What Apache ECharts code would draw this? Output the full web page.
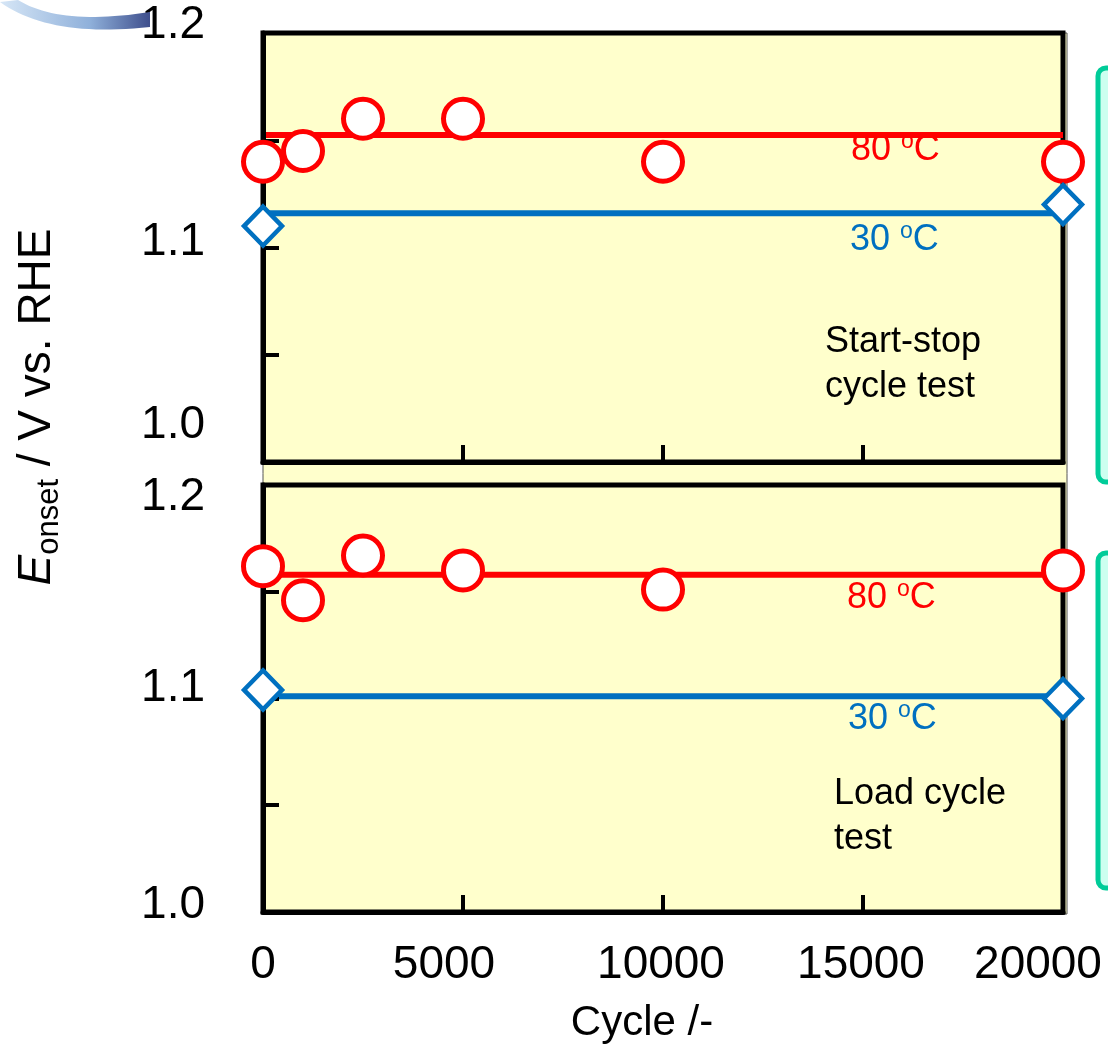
<!DOCTYPE html>
<html>
<head>
<meta charset="utf-8">
<script src="https://cdn.jsdelivr.net/npm/echarts@6/dist/echarts.min.js"></script>
<style>
html,body{margin:0;padding:0;background:#fff;}
#c{width:1108px;height:1047px;}
</style>
</head>
<body>
<div id="c"></div>
<script>
// ---- data ----
var cycles80 = [0, 1000, 2500, 5000, 10000, 20000];
var startStop80 = [1.140, 1.145, 1.160, 1.160, 1.140, 1.140];
var cycles30 = [0, 20000];
var startStop30 = [1.110, 1.120];
var startStop80Avg = 1.1525;
var startStop30Avg = 1.116;
var load80 = [1.162, 1.146, 1.167, 1.160, 1.151, 1.160];
var load30 = [1.104, 1.100];
var load80Avg = 1.158;
var load30Avg = 1.101;
var xTicks = [0, 5000, 10000, 15000, 20000];
var yTickLabels = ['1.0', '1.1', '1.2'];

var FONT = "'Liberation Sans', Arial, sans-serif";
var RED = '#FF0000', BLUE = '#0070C0';

function pairs(xs, ys) { return xs.map(function (x, i) { return [x, ys[i]]; }); }
function hline(v) { return [[0, v], [20000, v]]; }

var chart = echarts.init(document.getElementById('c'));

function yAxisCfg(gi, shifts) {
  var rich = {};
  shifts.forEach(function (d, i) {
    rich['l' + i] = {
      fontSize: 46, fontFamily: FONT, color: '#000',
      padding: d < 0 ? [0, 0, -2 * d, 0] : [2 * d, 0, 0, 0]
    };
  });
  return {
    type: 'value', gridIndex: gi, min: 1.0, max: 1.2, interval: 0.05, z: 4,
    axisLine: { show: true, lineStyle: { color: '#000', width: 5 } },
    splitLine: { show: false },
    axisTick: { show: true, inside: true, length: 16, lineStyle: { color: '#000', width: 4 } },
    axisLabel: {
      margin: 58,
      formatter: function (v) {
        var k = Math.round(v * 100);
        if (k === 100) return '{l0|' + yTickLabels[0] + '}';
        if (k === 110) return '{l1|' + yTickLabels[1] + '}';
        if (k === 120) return '{l2|' + yTickLabels[2] + '}';
        return '';
      },
      rich: rich
    }
  };
}

var xShift = { 0: 0, 5000: -19, 10000: -2, 15000: -2, 20000: -25 };
var xRich = {};
xTicks.forEach(function (t, i) {
  var d = xShift[t];
  xRich['x' + i] = {
    fontSize: 46, fontFamily: FONT, color: '#000',
    padding: d < 0 ? [0, -2 * d, 0, 0] : [0, 0, 0, 2 * d]
  };
});

function xAxisCfg(gi, showLabel) {
  var cfg = {
    type: 'value', gridIndex: gi, min: 0, max: 20000, interval: 5000, z: 4,
    axisLine: { show: true, lineStyle: { color: '#000', width: 5 } },
    splitLine: { show: false },
    axisTick: { show: true, inside: true, length: 17, lineStyle: { color: '#000', width: 4 } },
    axisLabel: {
      show: showLabel, margin: 30,
      formatter: function (v) {
        var i = xTicks.indexOf(Math.round(v));
        return i < 0 ? '' : '{x' + i + '|' + xTicks[i] + '}';
      },
      rich: xRich
    }
  };
  if (showLabel) {
    cfg.name = 'Cycle /-';
    cfg.nameLocation = 'middle';
    cfg.nameGap = 90;
    cfg.nameTextStyle = { fontSize: 42, fontFamily: FONT, color: '#000', padding: [0, 42, 0, 0] };
  }
  return cfg;
}

function circleSeries(gi, xs, ys) {
  return {
    type: 'scatter', xAxisIndex: gi, yAxisIndex: gi, data: pairs(xs, ys),
    symbol: 'circle', symbolSize: 39, z: 5,
    itemStyle: { color: '#fff', borderColor: RED, borderWidth: 5, opacity: 1 }
  };
}
function diamondSeries(gi, xs, ys) {
  return {
    type: 'scatter', xAxisIndex: gi, yAxisIndex: gi, data: pairs(xs, ys),
    symbol: 'diamond', symbolSize: [38, 39], z: 5,
    itemStyle: { color: '#fff', borderColor: BLUE, borderWidth: 4.5, opacity: 1 }
  };
}
function lineSeries(gi, v, color) {
  return {
    type: 'line', xAxisIndex: gi, yAxisIndex: gi, data: hline(v),
    showSymbol: false, symbol: 'none', z: 3, silent: true,
    lineStyle: { color: color, width: 6 }
  };
}

function degText(x, y, num, color) {
  return {
    type: 'text', x: x, y: y, z: 10,
    style: {
      text: '{n|' + num + ' }{o|o}{n|C}',
      fill: color, font: '36px ' + FONT, verticalAlign: 'middle',
      rich: {
        n: { fontSize: 36, fontFamily: FONT, fill: color, lineHeight: 40 },
        o: { fontSize: 23, fontFamily: FONT, fill: color, lineHeight: 24, verticalAlign: 'top' }
      }
    }
  };
}
function plainText(x, y, txt) {
  return {
    type: 'text', x: x, y: y, z: 10,
    style: { text: txt, fill: '#000', font: '36px ' + FONT, lineHeight: 45, verticalAlign: 'top' }
  };
}

// decorative swoosh (top-left), outline from two quadratic curves
function quad(p0, p1, p2, n) {
  var out = [];
  for (var i = 0; i <= n; i++) {
    var t = i / n, a = (1 - t) * (1 - t), b = 2 * (1 - t) * t, c = t * t;
    out.push([a * p0[0] + b * p1[0] + c * p2[0], a * p0[1] + b * p1[1] + c * p2[1]]);
  }
  return out;
}
var swoosh = quad([18, 0], [60, 26], [150, 12], 24).concat(quad([150, 27], [50, 38], [0, 2], 24));

chart.setOption({
  animation: false,
  backgroundColor: '#ffffff',
  grid: [
    { left: 263, top: 33, width: 800, height: 429, show: true, backgroundColor: '#FFFFCC', borderColor: '#000', borderWidth: 5,
      containLabel: false, outerBoundsMode: 'none' },
    { left: 263, top: 485, width: 800, height: 427, show: true, backgroundColor: '#FFFFCC', borderColor: '#000', borderWidth: 5,
      containLabel: false, outerBoundsMode: 'none' }
  ],
  xAxis: [xAxisCfg(0, false), xAxisCfg(1, true)],
  yAxis: [yAxisCfg(0, [-37, -5, -8]), yAxisCfg(1, [-7, -10, 12])],
  series: [
    lineSeries(0, startStop80Avg, RED),
    lineSeries(0, startStop30Avg, BLUE),
    circleSeries(0, cycles80, startStop80),
    diamondSeries(0, cycles30, startStop30),
    lineSeries(1, load80Avg, RED),
    lineSeries(1, load30Avg, BLUE),
    circleSeries(1, cycles80, load80),
    diamondSeries(1, cycles30, load30)
  ],
  graphic: [
    { type: 'rect', z: -10, shape: { x: 263, y: 33, width: 804, height: 881 },
      style: { fill: '#FFFFCC', stroke: '#555', lineWidth: 1 } },
    { type: 'rect', shape: { x: 1098, y: 68, width: 60, height: 414, r: 8 },
      style: { fill: '#CCFFF0', stroke: '#00CC99', lineWidth: 5 } },
    { type: 'rect', shape: { x: 1098, y: 553, width: 60, height: 335, r: 8 },
      style: { fill: '#CCFFF0', stroke: '#00CC99', lineWidth: 5 } },
    { type: 'polygon', z: 10,
      shape: { points: swoosh },
      style: { fill: {
        type: 'linear', x: 0, y: 0, x2: 1, y2: 0,
        colorStops: [{ offset: 0, color: '#D6E6F6' }, { offset: 0.6, color: '#8FB0DA' }, { offset: 1, color: '#3E4E8C' }]
      } } },
    degText(851, 150, '80', RED),
    degText(850, 240, '30', BLUE),
    plainText(825, 320, 'Start-stop\ncycle test'),
    degText(847, 598, '80', RED),
    degText(848, 719, '30', BLUE),
    plainText(834, 772, 'Load cycle\ntest'),
    { type: 'text', x: 37, y: 407, rotation: Math.PI / 2, z: 10,
      style: {
        text: '{i|E}{s|onset}{n| / V vs. RHE}',
        align: 'center', verticalAlign: 'middle', fill: '#000', font: '46px ' + FONT,
        rich: {
          i: { fontSize: 46, fontFamily: FONT, fontStyle: 'italic', fill: '#000', lineHeight: 56 },
          s: { fontSize: 31, fontFamily: FONT, fill: '#000', lineHeight: 38, verticalAlign: 'bottom' },
          n: { fontSize: 46, fontFamily: FONT, fill: '#000', lineHeight: 56 }
        }
      } }
  ]
});
</script>
</body>
</html>
